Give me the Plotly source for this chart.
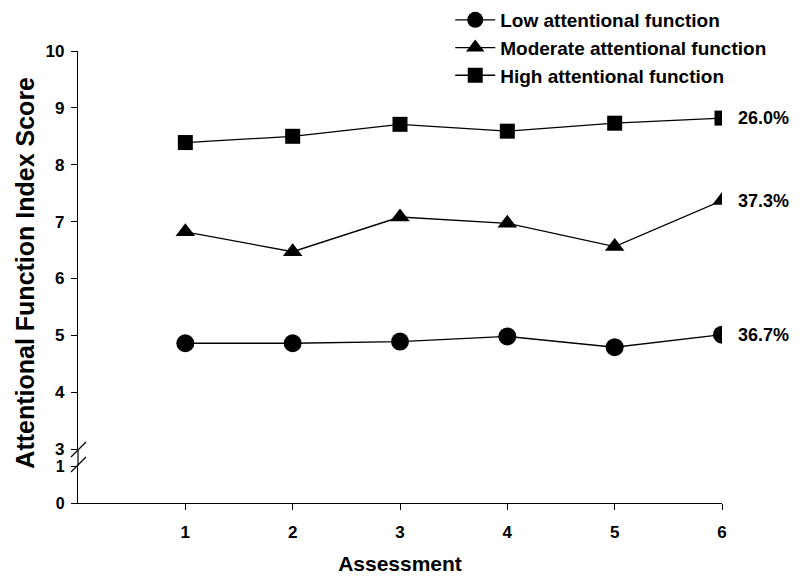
import plotly.graph_objects as go

assessments = [1, 2, 3, 4, 5, 6]
low = [4.86, 4.86, 4.89, 4.98, 4.79, 5.01]
moderate = [6.82, 6.47, 7.08, 6.97, 6.56, 7.37]
high = [8.39, 8.50, 8.71, 8.59, 8.73, 8.82]
series_names = ["Low attentional function", "Moderate attentional function", "High attentional function"]
end_labels = ["36.7%", "37.3%", "26.0%"]
upper_ticks = [3, 4, 5, 6, 7, 8, 9, 10]
lower_ticks = [0, 1]

FONT = "Liberation Sans, Arial, sans-serif"
fig = go.Figure()
symbols = ["circle", "triangle-up", "square"]
sizes = [18, 17, 15]
for name, vals, sym, sz in zip(series_names, [low, moderate, high], symbols, sizes):
    fig.add_trace(go.Scatter(
        x=assessments, y=vals, name="<b>%s</b>" % name, mode="lines+markers",
        line=dict(color="black", width=1.3),
        marker=dict(symbol=sym, size=sz, color="black"),
        xaxis="x", yaxis="y",
    ))

for vals, lab in zip([low, moderate, high], end_labels):
    fig.add_annotation(x=assessments[-1], y=vals[-1], xref="x", yref="y",
                       text="<b>%s</b>" % lab, showarrow=False, xanchor="left",
                       xshift=14, font=dict(family=FONT, size=18, color="black"))

# invisible trace to anchor lower axis
fig.add_trace(go.Scatter(x=[0], y=[0], xaxis="x", yaxis="y2", mode="markers",
                         marker=dict(opacity=0), showlegend=False, hoverinfo="skip"))

# page is offset by 8px body margin in the browser
L, T, R, B = 70, 43, 86, 82
PH = 577 - T - B  # 452
lower_top = 37 / PH
upper_bot = 54 / PH

axis_font = dict(family=FONT, size=17, color="black")
fig.update_layout(
    width=800, height=577,
    margin=dict(l=L, r=R, t=T, b=B, autoexpand=False),
    paper_bgcolor="white", plot_bgcolor="white",
    font=dict(family=FONT, color="black"),
    xaxis=dict(range=[0, 6], tickvals=assessments, ticktext=["<b>%d</b>" % a for a in assessments],
               showline=True, linecolor="black", linewidth=1.2, ticks="outside", ticklen=6,
               tickcolor="black", showgrid=False, zeroline=False, anchor="y2",
               tickfont=axis_font, automargin=False, ticklabelstandoff=7,
               title=dict(text="<b>Assessment</b>", font=dict(family=FONT, size=21), standoff=15)),
    yaxis=dict(domain=[upper_bot, 1], range=[3, 10], tickvals=upper_ticks,
               ticktext=["<b>%d</b>" % t for t in upper_ticks], automargin=False,
               showline=True, linecolor="black", linewidth=1.2, ticks="outside", ticklen=6,
               tickcolor="black", showgrid=False, zeroline=False, tickfont=axis_font,
               ticklabelstandoff=3),
    yaxis2=dict(domain=[0, lower_top], range=[0, 1], tickvals=lower_ticks,
                ticktext=["<b>%d</b>" % t for t in lower_ticks], automargin=False,
                showline=True, linecolor="black", linewidth=1.2, ticks="outside", ticklen=6,
                tickcolor="black", showgrid=False, zeroline=False,
                tickfont=dict(family=FONT, size=16, color="black"), ticklabelstandoff=3),
    legend=dict(x=0.578, y=1 + (T + 7) / PH, xanchor="left", yanchor="top",
                font=dict(family=FONT, size=19, color="black"),
                bgcolor="rgba(0,0,0,0)", tracegroupgap=0, itemwidth=40),
    showlegend=True,
)

# y-axis title
fig.add_annotation(x=-0.082, y=0.51, xref="paper", yref="paper", xanchor="center", yanchor="middle",
                   text="<b>Attentional Function Index Score</b>",
                   textangle=-90, showarrow=False, font=dict(family=FONT, size=25, color="black"))

# axis line in gap and break marks
fig.add_shape(type="line", xref="paper", yref="paper", x0=0, x1=0, y0=lower_top, y1=upper_bot,
              line=dict(color="black", width=1.2))
for yc in [449.5 - 8, 464.5 - 8]:
    fig.add_shape(type="line", xref="paper", yref="paper",
                  x0=-7 / 644, x1=8 / 644,
                  y0=(577 - B - yc - 7.5) / PH, y1=(577 - B - yc + 7.5) / PH,
                  line=dict(color="black", width=1.2))

fig.write_html("out.html")
